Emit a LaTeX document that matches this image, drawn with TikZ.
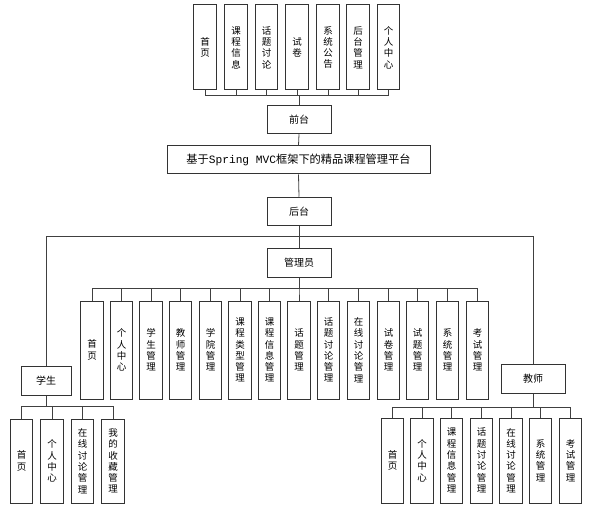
\documentclass[tikz,border=0pt]{standalone}
\usepackage{graphicx}
\usepackage{fontspec}
\setmainfont{Noto Sans CJK SC}
\newfontfamily\latinmono{Liberation Mono}
\begin{document}
\begin{tikzpicture}[x=1pt,y=-1pt,
  box/.style={draw=black!80,line width=1pt,fill=white,inner sep=0pt,align=center,
    font=\fontsize{9.5}{11.3}\selectfont},
  col/.style={box,minimum width=22.5pt},
  wide/.style={box,minimum width=64pt,minimum height=28.5pt,font=\fontsize{10}{12}\selectfont},
  link/.style={draw=black!75,line width=0.8pt}]
\useasboundingbox (0,0) rectangle (611,524);

% front-end modules
\foreach \n/\x/\t in {t1/205/首\\页, t2/236/课\\程\\信\\息, t3/266.5/话\\题\\讨\\论,
    t4/297/试\\卷, t5/328/系\\统\\公\\告, t6/358/后\\台\\管\\理, t7/388.5/个\\人\\中\\心}
  \node[col,minimum height=85pt] (\n) at (\x,47.5) {\t};

\node[wide] (front) at (299,119.5) {前台};
\node[box,minimum width=263pt,minimum height=28pt,font=\fontsize{10}{12}\selectfont]
  (root) at (298.5,160)
  {\resizebox{224pt}{!}{基于{\latinmono Spring MVC}框架下的精品课程管理平台}};
\node[wide] (back) at (299,211.5) {后台};
\node[wide] (admin) at (299,263) {管理员};
\node[wide,minimum width=50pt] (student) at (46,381) {学生};
\node[wide] (teacher) at (533,379) {教师};

% administrator modules
\foreach \n/\x/\t in {a1/92/首\\页, a2/121.5/个\\人\\中\\心, a3/151/学\\生\\管\\理,
    a4/180.5/教\\师\\管\\理, a5/210.5/学\\院\\管\\理, a6/240/课\\程\\类\\型\\管\\理,
    a7/269.5/课\\程\\信\\息\\管\\理, a8/299/话\\题\\管\\理, a9/328.5/话\\题\\讨\\论\\管\\理,
    a10/358.5/在\\线\\讨\\论\\管\\理, a11/388.5/试\\卷\\管\\理, a12/417.5/试\\题\\管\\理,
    a13/447.5/系\\统\\管\\理, a14/477.5/考\\试\\管\\理}
  \node[col,minimum height=98pt] (\n) at (\x,350) {\t};

% student modules
\foreach \n/\x/\t in {s1/21.5/首\\页, s2/52/个\\人\\中\\心,
    s3/82.5/在\\线\\讨\\论\\管\\理, s4/113/我\\的\\收\\藏\\管\\理}
  \node[col,minimum height=84pt] (\n) at (\x,461) {\t};

% teacher modules
\foreach \n/\x/\t in {e1/392.5/首\\页, e2/422/个\\人\\中\\心, e3/451.5/课\\程\\信\\息\\管\\理,
    e4/481.5/话\\题\\讨\\论\\管\\理, e5/511/在\\线\\讨\\论\\管\\理, e6/540.5/系\\统\\管\\理,
    e7/570.5/考\\试\\管\\理}
  \node[col,minimum height=85pt] (\n) at (\x,460.5) {\t};

% connectors
\foreach \n in {t1,t2,t3,t4,t5,t6,t7}
  \path[link] (front.north) -- ++(0,-9) -| (\n.south);
\path[link] (front.south) -- (root.north);
\path[link] (root.south) -- (back.north);
\path[link] (back.south) -- (admin.north);
\path[link] (back.south) -- ++(0,10) -| (student.north);
\path[link] (back.south) -- ++(0,10) -| (teacher.north);
\foreach \n in {a1,a2,a3,a4,a5,a6,a7,a8,a9,a10,a11,a12,a13,a14}
  \path[link] (admin.south) -- ++(0,11) -| (\n.north);
\foreach \n in {s1,s2,s3,s4}
  \path[link] (student.south) -- ++(0,11) -| (\n.north);
\foreach \n in {e1,e2,e3,e4,e5,e6,e7}
  \path[link] (teacher.south) -- ++(0,14) -| (\n.north);
\end{tikzpicture}
\end{document}
